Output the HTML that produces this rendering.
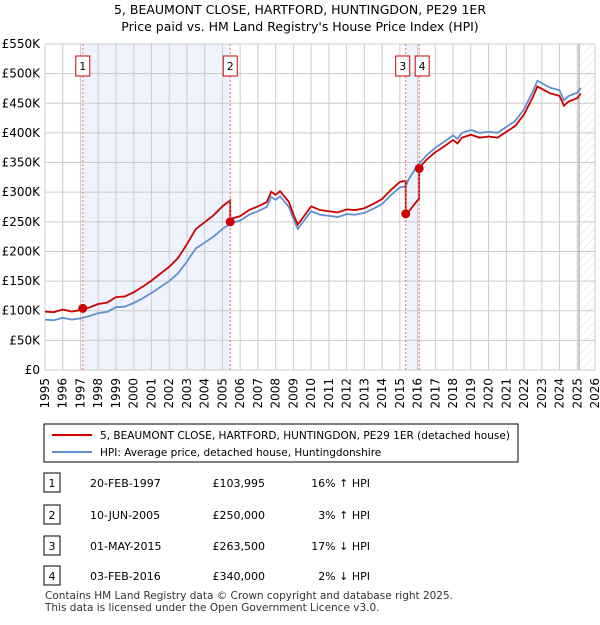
<!DOCTYPE html>
<html><head><meta charset="utf-8"><style>
body{margin:0;background:#fff;font-family:"Liberation Sans","DejaVu Sans",sans-serif;}
svg text{font-family:"DejaVu Sans","Liberation Sans",sans-serif;}
</style></head><body>
<svg id="chart" width="600" height="620" xmlns="http://www.w3.org/2000/svg">
<defs><pattern id="hatch" width="6" height="6" patternUnits="userSpaceOnUse" patternTransform="rotate(45)"><line x1="0" y1="0" x2="0" y2="6" stroke="#ddd" stroke-width="1"/></pattern></defs>
<text x="300" y="14" text-anchor="middle" font-size="12.5">5, BEAUMONT CLOSE, HARTFORD, HUNTINGDON, PE29 1ER</text>
<text x="300" y="31" text-anchor="middle" font-size="12.5">Price paid vs. HM Land Registry's House Price Index (HPI)</text>
<g id="grid"></g><g id="marks"></g><g id="axes"></g>
<rect x="44" y="424" width="474" height="38" fill="#fff" stroke="#000" stroke-width="1"/>
<line x1="52" y1="435" x2="92" y2="435" stroke="#cc0000" stroke-width="2"/>
<text x="100" y="439" font-size="10.5" textLength="410" lengthAdjust="spacingAndGlyphs">5, BEAUMONT CLOSE, HARTFORD, HUNTINGDON, PE29 1ER (detached house)</text>
<line x1="52" y1="452" x2="92" y2="452" stroke="#6090d0" stroke-width="2"/>
<text x="100" y="456" font-size="10.5">HPI: Average price, detached house, Huntingdonshire</text>
<g id="table" font-size="11"></g>
<text x="45" y="599" font-size="10.5" fill="#333" textLength="408" lengthAdjust="spacingAndGlyphs">Contains HM Land Registry data © Crown copyright and database right 2025.</text>
<text x="45" y="611" font-size="10.5" fill="#333">This data is licensed under the Open Government Licence v3.0.</text>
</svg>
<script>
const yearTicks=[1995,1996,1997,1998,1999,2000,2001,2002,2003,2004,2005,2006,2007,2008,2009,2010,2011,2012,2013,2014,2015,2016,2017,2018,2019,2020,2021,2022,2023,2024,2025,2026];
const priceTicks=[0,50,100,150,200,250,300,350,400,450,500,550];
const priceLabels=["£0","£50K","£100K","£150K","£200K","£250K","£300K","£350K","£400K","£450K","£500K","£550K"];
const hpiYears=[1995,1995.5,1996,1996.5,1997,1997.5,1998,1998.5,1999,1999.5,2000,2000.5,2001,2001.5,2002,2002.5,2003,2003.5,2004,2004.5,2005,2005.5,2006,2006.5,2007,2007.5,2007.75,2008,2008.25,2008.75,2009,2009.25,2009.75,2010,2010.5,2011,2011.5,2012,2012.5,2013,2013.5,2014,2014.5,2015,2015.33,2015.5,2016,2016.5,2017,2017.5,2018,2018.25,2018.5,2019,2019.5,2020,2020.5,2021,2021.5,2022,2022.5,2022.75,2023,2023.5,2024,2024.25,2024.5,2025,2025.2];
const hpiValues=[85,84,88,85,87,91,96,98,106,107,113,121,130,140,150,163,183,205,215,225,238,248,252,262,268,275,292,287,293,275,255,238,258,268,262,260,258,263,262,265,272,280,295,308,310,322,345,362,375,385,396,390,400,405,400,402,400,410,420,440,470,488,484,476,472,455,462,468,476];
const saleYears=[1997.13,2005.44,2015.33,2016.09];
const salePrices=[103.995,250,263.5,340];
const saleRatios=[1.16,1.03,0.83,0.98];
const saleDates=["20-FEB-1997","10-JUN-2005","01-MAY-2015","03-FEB-2016"];
const salePriceText=["£103,995","£250,000","£263,500","£340,000"];
const saleHpiText=["16% ↑ HPI","3% ↑ HPI","17% ↓ HPI","2% ↓ HPI"];
const NS="http://www.w3.org/2000/svg";
const X0=45,X1=595,Y0=370,Y1=44;
const xs=y=>X0+(y-1995)/(2026-1995)*(X1-X0);
const ys=v=>Y0-v/550*(Y0-Y1);
function mk(tag,attrs,parent){const e=document.createElementNS(NS,tag);for(const k in attrs)e.setAttribute(k,attrs[k]);parent.appendChild(e);return e;}
const grid=document.getElementById('grid'),marks=document.getElementById('marks'),axes=document.getElementById('axes'),table=document.getElementById('table');
let b1=mk('rect',{x:xs(saleYears[0]),y:Y1,width:xs(saleYears[1])-xs(saleYears[0]),height:Y0-Y1,fill:'#eef3fd'},grid);


let b2=mk('rect',{x:xs(saleYears[2]),y:Y1,width:xs(saleYears[3])-xs(saleYears[2]),height:Y0-Y1,fill:'#eef3fd'},grid);


let hz=mk('rect',{x:xs(2025.1),y:Y1,width:X1-xs(2025.1),height:Y0-Y1,fill:'url(#hatch)'},grid);


yearTicks.forEach(y=>{mk('line',{x1:xs(y),y1:Y1,x2:xs(y),y2:Y0,stroke:'#ccc','stroke-width':1},grid);
 const t=mk('text',{x:0,y:0,'font-size':12,'text-anchor':'end',transform:`translate(${xs(y)+4},${Y0+8}) rotate(-90)`},axes);t.textContent=y;
 
 });
priceTicks.forEach((v,i)=>{mk('line',{x1:X0,y1:ys(v),x2:X1,y2:ys(v),stroke:'#ccc','stroke-width':1},grid);
 const t=mk('text',{x:X0-5,y:ys(v)+4,'font-size':12,'text-anchor':'end'},axes);t.textContent=priceLabels[i];
 
 });
mk('line',{x1:xs(2025.1),y1:Y1,x2:xs(2025.1),y2:Y0,stroke:'#999','stroke-width':1},grid);
let hp=mk('polyline',{points:hpiYears.map((y,i)=>xs(y)+','+ys(hpiValues[i])).join(' '),fill:'none',stroke:'#6090d0','stroke-width':1.8},marks);


function hpiAt(y){for(let i=0;i<hpiYears.length-1;i++){if(y<=hpiYears[i+1]){const f=(y-hpiYears[i])/(hpiYears[i+1]-hpiYears[i]);return hpiValues[i]+f*(hpiValues[i+1]-hpiValues[i]);}}return hpiValues[hpiValues.length-1];}
function ratioAt(y){let r=saleRatios[0];for(let i=0;i<saleYears.length;i++)if(y>=saleYears[i])r=saleRatios[i];return r;}
let pts=[];const allY=[...hpiYears,...saleYears,...saleYears.map(s=>s-0.001)].sort((a,b)=>a-b);
allY.forEach(y=>pts.push(xs(y)+','+ys(hpiAt(y)*ratioAt(y))));
let pl=mk('polyline',{points:pts.join(' '),fill:'none',stroke:'#cc0000','stroke-width':1.8},marks);


saleYears.forEach((y,i)=>{
 mk('line',{x1:xs(y),y1:Y1,x2:xs(y),y2:Y0,stroke:'#e66','stroke-width':1,'stroke-dasharray':'2,2'},marks);
 const c=mk('circle',{cx:xs(y),cy:ys(salePrices[i]),r:4.5,fill:'#cc0000'},marks);
 
 
 const bx=i==2?xs(y)-10:(i==3?xs(y)-4:xs(y)-7);
 mk('rect',{x:bx,y:56,width:14,height:20,fill:'#fff',stroke:'#cc0000'},marks);
 const t=mk('text',{x:bx+7,y:70,'font-size':11,'text-anchor':'middle'},marks);t.textContent=i+1;
 
 
 const ry=[483,515,546,576][i];
 mk('rect',{x:44,y:ry-10,width:16,height:19,fill:'#fff',stroke:'#000'},table);
 const n=mk('text',{x:52,y:ry+4,'text-anchor':'middle'},table);n.textContent=i+1;
 const d=mk('text',{x:90,y:ry+4},table);d.textContent=saleDates[i];
 
 
 const p=mk('text',{x:265,y:ry+4,'text-anchor':'end'},table);p.textContent=salePriceText[i];
 
 
 const h=mk('text',{x:370,y:ry+4,'text-anchor':'end'},table);h.textContent=saleHpiText[i];
 
 
});
</script>
</body></html>
